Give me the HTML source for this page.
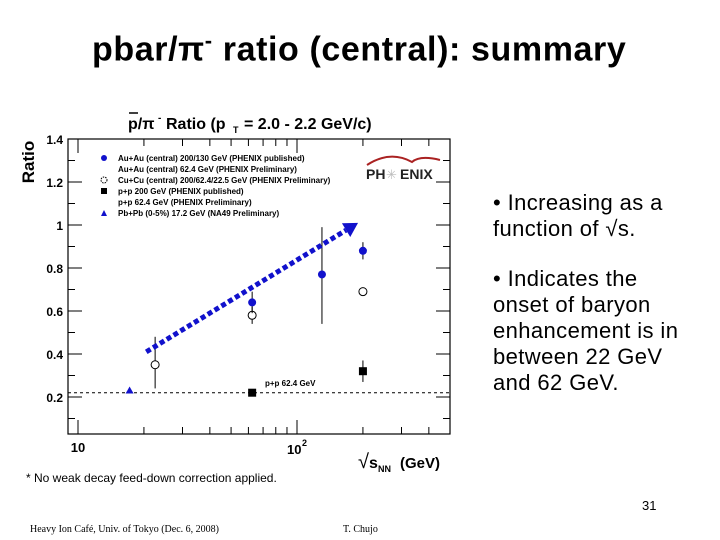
<!DOCTYPE html>
<html><head><meta charset="utf-8"><style>
body{margin:0;width:720px;height:540px;background:#fff;overflow:hidden;font-family:"Liberation Sans",sans-serif;position:relative}
.t{position:absolute;white-space:nowrap}
</style></head><body>
<div class="t" style="left:92px;top:28px;font-size:34px;font-weight:bold;letter-spacing:0.6px">pbar/π<sup style="font-size:22px">-</sup> ratio (central): summary</div>
<svg id="chart" width="720" height="540" style="position:absolute;left:0;top:0"></svg>
<div class="t" style="left:493px;top:190px;font-size:22px;line-height:26px;letter-spacing:0.4px">• Increasing as a<br>function of √s.</div>
<div class="t" style="left:493px;top:266px;font-size:22px;line-height:26px;letter-spacing:0.4px">• Indicates the<br>onset of baryon<br>enhancement is in<br>between 22 GeV<br>and 62 GeV.</div>
<div class="t" style="left:26px;top:471px;font-size:12px">* No weak decay feed-down correction applied.</div>
<div class="t" style="left:642px;top:498px;font-size:13px">31</div>
<div class="t" style="left:30px;top:524px;font-size:10px;font-family:'Liberation Serif',serif">Heavy Ion Café, Univ. of Tokyo (Dec. 6, 2008)</div>
<div class="t" style="left:343px;top:524px;font-size:10px;font-family:'Liberation Serif',serif">T. Chujo</div>
<script>
const auauE=[200,130,62.4], auauR=[0.88,0.77,0.64], auauLo=[0.84,0.54,0.59], auauHi=[0.92,0.99,0.69];
const cucuE=[200,62.4,22.5], cucuR=[0.69,0.58,0.35], cucuLo=[0.69,0.54,0.24], cucuHi=[0.69,0.62,0.48];
const ppE=[200,62.4], ppR=[0.32,0.22], ppLo=[0.27,0.22], ppHi=[0.37,0.22];
const pbE=[17.2], pbR=[0.23];
const ppRef=[0.22];
const arrowE=[20.5,190], arrowR=[0.41,1.01];
const yTicks=[0.2,0.4,0.6,0.8,1,1.2,1.4], yLabels=["0.2","0.4","0.6","0.8","1","1.2","1.4"];
const legendLabels=["Au+Au (central) 200/130 GeV (PHENIX published)","Au+Au (central) 62.4 GeV (PHENIX Preliminary)","Cu+Cu (central) 200/62.4/22.5 GeV (PHENIX Preliminary)","p+p 200 GeV (PHENIX published)","p+p 62.4 GeV (PHENIX Preliminary)","Pb+Pb (0-5%) 17.2 GeV (NA49 Preliminary)"];
const svg=document.getElementById('chart'),NS='http://www.w3.org/2000/svg';
const X=e=>78+219*(Math.log10(e)-1), Y=r=>440-215*r;
const L=68,R=450,T=139,B=434;
function el(t,a,p){const n=document.createElementNS(NS,t);for(const k in a)n.setAttribute(k,a[k]);(p||svg).appendChild(n);return n;}
function tx(x,y,s,a){const n=el('text',Object.assign({x:x,y:y,'font-family':'Liberation Sans,sans-serif'},a));n.textContent=s;return n;}
let f=el('rect',{x:L,y:T,width:R-L,height:B-T,fill:'none',stroke:'#000','stroke-width':1.2});

for(let i=0;i<yTicks.length;i++){const y=Y(yTicks[i]);el('line',{x1:L,x2:L+14,y1:y,y2:y,stroke:'#000'});el('line',{x1:R-14,x2:R,y1:y,y2:y,stroke:'#000'});
 const t=tx(L-5,y+5,yLabels[i],{'font-size':12,'font-weight':'bold','text-anchor':'end'});
 const ym=Y(yTicks[i]-0.1);el('line',{x1:L,x2:L+7,y1:ym,y2:ym,stroke:'#000'});el('line',{x1:R-7,x2:R,y1:ym,y2:ym,stroke:'#000'});}
for(let d=1;d<=2;d++)for(let m=1;m<=9;m++){const e=m*Math.pow(10,d);const x=X(e);if(x<L||x>R)continue;const len=m==1?14:7;el('line',{x1:x,x2:x,y1:B,y2:B-len,stroke:'#000'});el('line',{x1:x,x2:x,y1:T,y2:T+len,stroke:'#000'});}
tx(X(10),452,"10",{'font-size':13,'font-weight':'bold','text-anchor':'middle'});
let t2=tx(X(100)-10,454,"10",{'font-size':13,'font-weight':'bold'});tx(X(100)+5,446,"2",{'font-size':9,'font-weight':'bold'});
let yt=tx(34,162,"Ratio",{'font-size':17,'font-weight':'bold','text-anchor':'middle',transform:'rotate(-90 34 162)'});
let xt=tx(358,468,"√",{'font-size':20});tx(369,468,"s",{'font-size':16,'font-weight':'bold'});tx(378,472,"NN",{'font-size':9,'font-weight':'bold'});tx(400,468,"(GeV)",{'font-size':15,'font-weight':'bold'});
let ct=tx(128,129,"p/π",{'font-size':16,'font-weight':'bold'});el('line',{x1:129,x2:138,y1:113,y2:113,stroke:'#000','stroke-width':1.5});
tx(158,121,"-",{'font-size':10,'font-weight':'bold'});tx(166,129,"Ratio (p",{'font-size':16,'font-weight':'bold'});tx(233,133,"T",{'font-size':9,'font-weight':'bold'});tx(244,129,"= 2.0 - 2.2 GeV/c)",{'font-size':16,'font-weight':'bold'});

for(let i=0;i<legendLabels.length;i++){const y=158+11*i;const g=tx(118,y+3,legendLabels[i],{'font-size':8,'font-weight':'bold'});}
el('circle',{cx:104,cy:158,r:3,fill:'#11c'});el('circle',{cx:104,cy:180,r:3,fill:'none',stroke:'#000','stroke-dasharray':'1.5 1'});el('rect',{x:101,y:188,width:6,height:6,fill:'#000'});el('path',{d:'M101 216 L104 210 L107 216Z',fill:'#11c'});
el('path',{d:'M367 165 Q390 150 412 162 Q420 155 440 160',fill:'none',stroke:'#a22','stroke-width':2});
tx(366,179,"PH",{'font-size':14,'font-weight':'bold',fill:'#222'});tx(386,179,"✳",{'font-size':13,fill:'#bbb'});tx(400,179,"ENIX",{'font-size':14,'font-weight':'bold',fill:'#222'});
let dl=el('line',{x1:L,x2:R,y1:Y(ppRef[0]),y2:Y(ppRef[0]),stroke:'#000','stroke-dasharray':'3 3'});
tx(265,386,"p+p 62.4 GeV",{'font-size':8,'font-weight':'bold'});
function eb(e,lo,hi){if(hi-lo<0.001)return;el('line',{x1:X(e),x2:X(e),y1:Y(lo),y2:Y(hi),stroke:'#000'});}
for(let i=0;i<cucuE.length;i++){eb(cucuE[i],cucuLo[i],cucuHi[i]);const c=el('circle',{cx:X(cucuE[i]),cy:Y(cucuR[i]),r:4,fill:'#fff',stroke:'#000'});}
for(let i=0;i<auauE.length;i++){eb(auauE[i],auauLo[i],auauHi[i]);const c=el('circle',{cx:X(auauE[i]),cy:Y(auauR[i]),r:4,fill:'#11c'});}
for(let i=0;i<ppE.length;i++){eb(ppE[i],ppLo[i],ppHi[i]);const c=el('rect',{x:X(ppE[i])-4,y:Y(ppR[i])-4,width:8,height:8,fill:'#000'});}
for(let i=0;i<pbE.length;i++){const x=X(pbE[i]),y=Y(pbR[i]);const c=el('path',{d:`M${x-4} ${y+3} L${x} ${y-4} L${x+4} ${y+3}Z`,fill:'#11c'});}
const ax1=X(arrowE[0]),ay1=Y(arrowR[0]),ax2=X(arrowE[1]),ay2=Y(arrowR[1]);
const ang=Math.atan2(ay2-ay1,ax2-ax1),hx=ax2-14*Math.cos(ang),hy=ay2-14*Math.sin(ang);
let ar=el('line',{x1:ax1,y1:ay1,x2:hx,y2:hy,stroke:'#11c','stroke-width':5,'stroke-dasharray':'5 3'});
const px=-Math.sin(ang)*8,py=Math.cos(ang)*8;
el('path',{d:`M${ax2} ${ay2} L${hx+px} ${hy+py} L${hx-px} ${hy-py}Z`,fill:'#11c'});
</script>
</body></html>
